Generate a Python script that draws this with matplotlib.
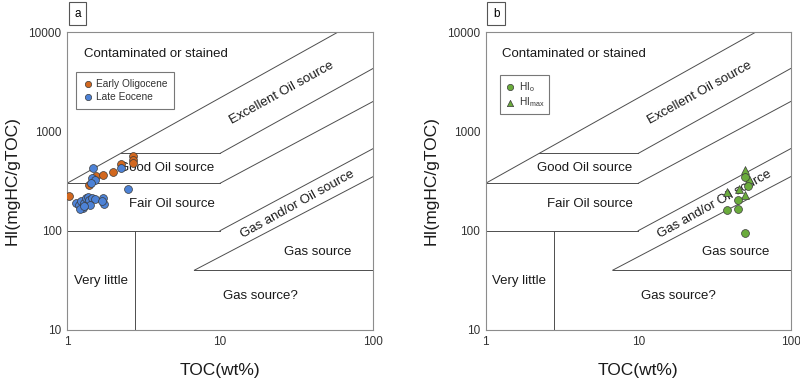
import matplotlib
matplotlib.use("Agg")
import matplotlib.pyplot as plt
import numpy as np

plt.rcParams["font.family"] = ["Liberation Sans", "DejaVu Sans"]

# sample data (TOC wt%, HI mgHC/gTOC)
oligocene_toc = [1.03, 1.40, 1.55, 1.72, 2.01, 2.26, 2.68, 2.68, 2.68]
oligocene_hi = [225, 286, 355, 366, 393, 466, 560, 520, 480]

eocene_toc = [1.47, 2.25, 1.45, 1.52, 1.44, 2.50,
              1.14, 1.20, 1.24, 1.27, 1.30, 1.33, 1.37, 1.40, 1.45,
              1.52, 1.42, 1.73, 1.75, 1.70, 1.22, 1.30]
eocene_hi = [425, 430, 340, 322, 305, 265,
             188, 180, 200, 170, 190, 215, 220, 205, 215,
             208, 180, 215, 185, 200, 165, 178]

hio_toc = [50.0, 52.7, 45.4, 38.0, 45.4, 50.2]
hio_hi = [350, 282, 204, 161, 164, 95]
himax_toc = [50.0, 53.0, 38.0, 45.5, 50.5]
himax_hi = [405, 330, 245, 265, 230]

# classification boundaries
diag_lines = [
    ([1, 59], [300, 10000]),
    ([10, 100], [600, 4300]),
    ([10, 100], [300, 2000]),
    ([10, 100], [100, 670]),
    ([6.8, 100], [40, 350]),
]
good_start = 10 ** (np.log10(600 / 300) / (np.log10(10000 / 300) / np.log10(59)))
flat_lines = [
    ([good_start, 10], [600, 600]),
    ([1, 10], [300, 300]),
    ([1, 10], [100, 100]),
    ([6.8, 100], [40, 40]),
    ([2.8, 2.8], [10, 100]),
]

region_labels = [
    ("Contaminated or stained", 0.055, 0.925, 0, "left"),
    ("Excellent Oil source", 0.701, 0.795, 29, "center"),
    ("Good Oil source", 0.326, 0.543, 0, "center"),
    ("Fair Oil source", 0.342, 0.423, 0, "center"),
    ("Gas and/or Oil source", 0.752, 0.423, 29, "center"),
    ("Gas source", 0.818, 0.263, 0, "center"),
    ("Very little", 0.110, 0.163, 0, "center"),
    ("Gas source?", 0.631, 0.114, 0, "center"),
]

LINE = "#4d4d4d"
ORANGE = "#d2681f"
BLUE = "#4d82d6"
GREEN = "#6aab3c"

fig = plt.figure(figsize=(8.0, 3.79), dpi=100, facecolor="white")
ax_a = fig.add_axes([0.08375, 0.1293, 0.3825, 0.786])
ax_b = fig.add_axes([0.6071, 0.1293, 0.3813, 0.786])


def draw_template(ax, tag):
    ax.set_xscale("log")
    ax.set_yscale("log")
    ax.set_xlim(1, 100)
    ax.set_ylim(10, 10000)
    for xs, ys in diag_lines + flat_lines:
        ax.plot(xs, ys, color=LINE, linewidth=0.7, zorder=1)
    for text, x, y, rot, ha in region_labels:
        ax.text(x, y, text, transform=ax.transAxes, fontsize=9.5, color="#1a1a1a",
                rotation=rot, ha=ha, va="center", rotation_mode="anchor", zorder=2)
    ax.set_xticks([1, 10, 100])
    ax.set_xticklabels(["1", "10", "100"])
    ax.set_yticks([10, 100, 1000, 10000])
    ax.set_yticklabels(["10", "100", "1000", "10000"])
    ax.minorticks_off()
    ax.tick_params(length=0, labelsize=8.5, labelcolor="#333333", pad=4)
    for side in ax.spines.values():
        side.set_color("#8c8c8c")
        side.set_linewidth(0.8)
    ax.set_xlabel("TOC(wt%)", fontsize=12.5, color="#1a1a1a", labelpad=11)
    ax.set_ylabel("HI(mgHC/gTOC)", fontsize=12.5, color="#1a1a1a", labelpad=6)
    ax.text(0.034, 1.062, tag, transform=ax.transAxes, fontsize=8.5, ha="center", va="center",
            bbox=dict(boxstyle="square,pad=0.45", fc="white", ec="#555555", lw=0.8))


draw_template(ax_a, "a")
draw_template(ax_b, "b")

ax_a.scatter(oligocene_toc, oligocene_hi, s=32, color=ORANGE, edgecolor="#3a3a3a",
             linewidth=0.5, zorder=3, label="Early Oligocene")
ax_a.scatter(eocene_toc, eocene_hi, s=32, color=BLUE, edgecolor="#3a3a3a",
             linewidth=0.5, zorder=3, label="Late Eocene")

ax_b.scatter(himax_toc, himax_hi, s=32, marker="^", color=GREEN, edgecolor="#3a3a3a",
             linewidth=0.5, zorder=3, label=r"HI$_\mathregular{max}$")
ax_b.scatter(hio_toc, hio_hi, s=32, color=GREEN, edgecolor="#3a3a3a",
             linewidth=0.5, zorder=3, label=r"HI$_\mathregular{o}$")

legend_specs = (
    (ax_a, [0, 1], (0.029, 0.866), 0.65, 0.35),
    (ax_b, [1, 0], (0.047, 0.856), 0.5, 0.15),
)
for ax, order, anchor, pad, spacing in legend_specs:
    handles, labels = ax.get_legend_handles_labels()
    leg = ax.legend([handles[i] for i in order], [labels[i] for i in order],
                    loc="upper left", bbox_to_anchor=anchor, fontsize=7.3,
                    frameon=True, fancybox=False, edgecolor="#555555",
                    handletextpad=0.35, borderpad=pad, labelspacing=spacing,
                    handlelength=1.0, markerscale=0.8, borderaxespad=0)
    leg.get_frame().set_linewidth(0.8)
    for t in leg.get_texts():
        t.set_color("#333333")

fig.savefig("out.png", dpi=100, facecolor="white")
